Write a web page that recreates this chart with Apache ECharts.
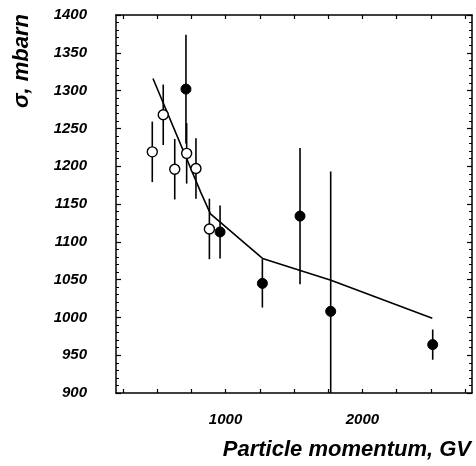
<!DOCTYPE html>
<html>
<head>
<meta charset="utf-8">
<script src="https://cdn.jsdelivr.net/npm/echarts@6/dist/echarts.min.js"></script>
<style>html,body{margin:0;padding:0;background:#fff}#c{width:476px;height:466px}</style>
</head>
<body>
<div id="c"></div>
<script>
// Open circles
const openX = [465, 545, 629, 716, 784, 882];
const openY = [1219, 1268, 1196, 1217, 1197, 1117];
const openErr = [40, 40, 40, 40, 40, 40];
// Filled circles
const fillX = [711, 960, 1269, 1544, 1768, 2513];
const fillY = [1302, 1113, 1045, 1134, 1008, 964];
const fillErr = [72, 35, 32, 90, 185, 20];
// Model curve
const curveX = [470, 820, 890, 1270, 1770, 2510];
const curveY = [1316, 1165, 1137, 1078, 1049, 999];
// Axis ticks
const xTicks = [250, 500, 750, 1000, 1250, 1500, 1750, 2000, 2250, 2500, 2750];
const xLabels = [1000, 2000];

const font = {fontFamily: 'Liberation Sans', fontWeight: 'bold', fontStyle: 'italic', color: '#000'};
const zip = (a, b) => a.map((v, i) => [v, b[i]]);
const errData = (xs, ys, es) => xs.map((x, i) => [x, ys[i] - es[i], ys[i] + es[i]]);
const plain = v => String(v);

function errRender(params, api) {
  const p1 = api.coord([api.value(0), api.value(1)]);
  const p2 = api.coord([api.value(0), api.value(2)]);
  return {type: 'line', shape: {x1: p1[0], y1: p1[1], x2: p2[0], y2: p2[1]},
          style: {stroke: '#000', lineWidth: 1.6}};
}

const axLine = {show: true, onZero: false, lineStyle: {color: '#000', width: 1.5}};
const xBase = {type: 'value', min: 200, max: 2800, splitLine: {show: false},
  axisLine: axLine,
  axisTick: {show: true, inside: true, length: 4, customValues: xTicks, lineStyle: {color: '#000', width: 1.2}}};
const yBase = {type: 'value', min: 900, max: 1400, interval: 50, splitLine: {show: false},
  axisLine: axLine,
  axisTick: {show: true, inside: true, length: 5, lineStyle: {color: '#000', width: 1.2}},
  minorTick: {show: true, splitNumber: 5, length: 3, lineStyle: {color: '#000', width: 1}},
  minorSplitLine: {show: false}};

const chart = echarts.init(document.getElementById('c'), null, {renderer: 'canvas'});
chart.setOption({
  animation: false,
  backgroundColor: '#fff',
  grid: {left: 116, right: 4, top: 15, bottom: 73},
  xAxis: [
    Object.assign({}, xBase, {position: 'bottom',
      axisLabel: Object.assign({show: true, fontSize: 15, margin: 19, customValues: xLabels, formatter: plain}, font)}),
    Object.assign({}, xBase, {position: 'top', axisLabel: {show: false}})
  ],
  yAxis: [
    Object.assign({}, yBase, {position: 'left',
      axisLabel: Object.assign({show: true, fontSize: 15, margin: 29, formatter: plain}, font)}),
    Object.assign({}, yBase, {position: 'right', axisLabel: {show: false}})
  ],
  graphic: [
    {type: 'text', x: 471, y: 450, style: {text: 'Particle momentum, GV', fontSize: 22,
      fill: '#000', align: 'right', verticalAlign: 'middle', fontFamily: 'Liberation Sans', fontWeight: 'bold', fontStyle: 'italic'}},
    {type: 'text', x: 22, y: 61, rotation: Math.PI / 2, style: {text: 'σ, mbarn', fontSize: 22,
      fill: '#000', align: 'center', verticalAlign: 'middle', fontFamily: 'Liberation Sans', fontWeight: 'bold', fontStyle: 'italic'}}
  ],
  series: [
    {type: 'line', data: zip(curveX, curveY), symbol: 'none', lineStyle: {color: '#000', width: 1.6}, z: 2},
    {type: 'custom', data: errData(openX, openY, openErr), renderItem: errRender, clip: true,
      encode: {x: 0, y: [1, 2]}, z: 3},
    {type: 'custom', data: errData(fillX, fillY, fillErr), renderItem: errRender, clip: true,
      encode: {x: 0, y: [1, 2]}, z: 3},
    {type: 'scatter', data: zip(openX, openY), symbol: 'circle', symbolSize: 10,
      itemStyle: {color: '#fff', borderColor: '#000', borderWidth: 1.4, opacity: 1}, z: 5},
    {type: 'scatter', data: zip(fillX, fillY), symbol: 'circle', symbolSize: 10,
      itemStyle: {color: '#000', borderColor: '#000', borderWidth: 1, opacity: 1}, z: 6}
  ]
});
</script>
</body>
</html>
